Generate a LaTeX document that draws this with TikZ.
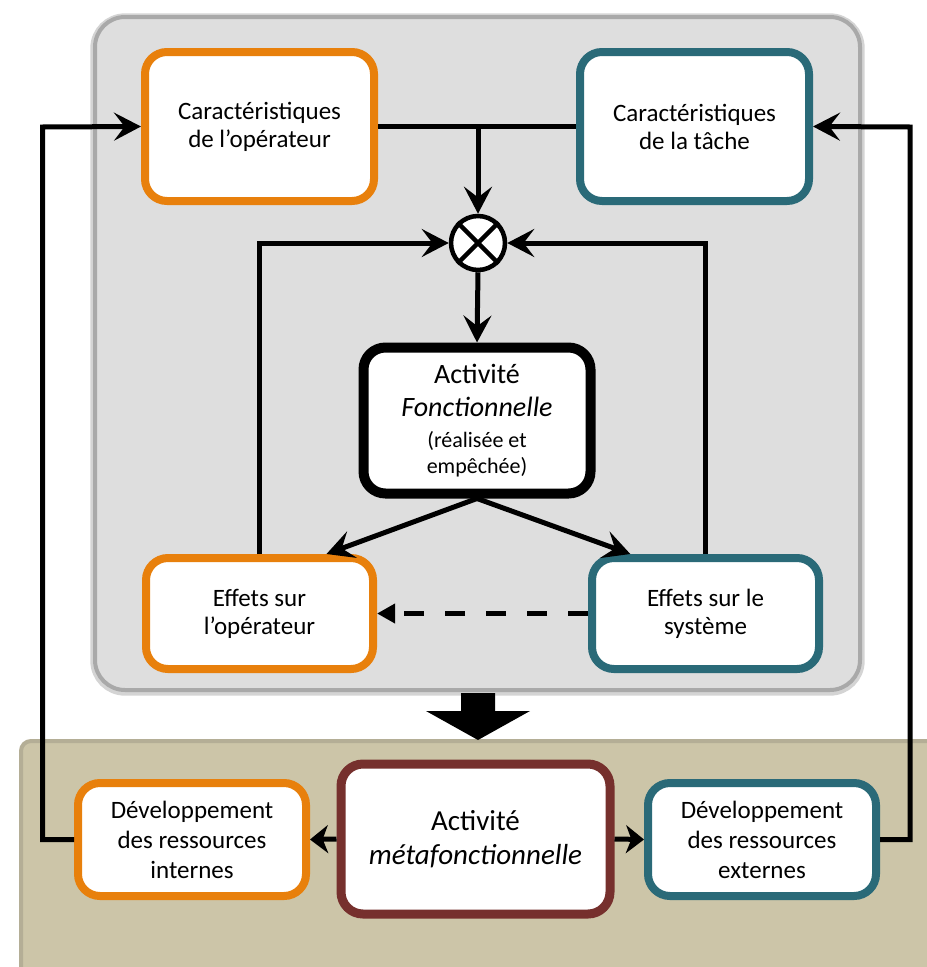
\documentclass[tikz,border=0pt]{standalone}
\usepackage{fontspec}
\setmainfont{Carlito}
\usetikzlibrary{arrows.meta,calc}
\definecolor{orangeb}{HTML}{E8800C}
\definecolor{tealb}{HTML}{2A6A78}
\definecolor{brownb}{HTML}{76302D}
\definecolor{panelgray}{HTML}{DEDEDE}
\definecolor{panelborder}{HTML}{A9A9A9}
\definecolor{beigep}{HTML}{CCC5A8}
\definecolor{beigeborder}{HTML}{B4AE96}
\begin{document}
\begin{tikzpicture}[x=0.75pt,y=-0.75pt,
  box/.style={draw, fill=white, rounded corners=16.5pt, line width=6pt, align=center, inner sep=0pt,
    font=\fontsize{18.75}{21}\selectfont},
  obox/.style={box, draw=orangeb},
  tbox/.style={box, draw=tealb},
  conn/.style={line width=3.75pt, draw=black},
  arr/.style={conn, -{Stealth[length=20.25pt, width=21pt, inset=8pt]}},
  arrs/.style={conn, -{Stealth[length=13.5pt, width=21pt, inset=4pt]}},
  dasharr/.style={conn, dash pattern=on 15pt off 15.75pt, -{Triangle[length=13.5pt, width=14pt]}},
]
\useasboundingbox (0,0) rectangle (926,967);
% panels
\node (grayp) [draw=panelborder!50, line width=7pt, rounded corners=22.5pt, minimum width=573.75pt, minimum height=504.75pt] at (477.5,354.5) {};
\node (graypanel) [draw=panelborder, fill=panelgray, line width=3pt, rounded corners=22.5pt, minimum width=573.75pt, minimum height=504.75pt] at (477.5,353.5) {};
\node (beigepanel) [draw=beigeborder, fill=beigep, line width=3pt, rounded corners=7.5pt, minimum width=705pt, minimum height=195pt, anchor=north west] at (19,739) {};
% big arrow
\fill (461,693) -- (495,693) -- (495,711) -- (530,711) -- (478,740) -- (426,711) -- (461,711) -- cycle;
% boxes
\node (carop) [obox, minimum width=171.75pt, minimum height=111.75pt] at (259.5,126.5) {Caractéristiques\\de l’opérateur};
\node (tache) [tbox, minimum width=171.75pt, minimum height=111.75pt] at (694.5,126.5) {Caractéristiques\\de la tâche};
\node (circ) [circle, draw, fill=white, line width=3.4pt, minimum size=40.5pt, inner sep=0pt] at (478,243) {};
\draw[line width=3.4pt] (circ.north east) -- (circ.south west) (circ.north west) -- (circ.south east);
\node (actf) [box, draw=black, line width=7.5pt, minimum width=170.25pt, minimum height=109.5pt, font=\fontsize{21}{25}\selectfont] at (477,420.5)
  {Activité\\\textit{Fonctionnelle}\\[-2pt]{\fontsize{16.5}{19}\selectfont (réalisée et}\\[-5pt]{\fontsize{16.5}{19}\selectfont empêchée)}};
\node (effop) [obox, minimum width=170.25pt, minimum height=83.25pt] at (259.5,613.5) {Effets sur\\l’opérateur};
\node (effsys) [tbox, minimum width=170.25pt, minimum height=83.25pt] at (705.5,613.5) {Effets sur le\\système};
\node (devint) [obox, minimum width=171pt, minimum height=84.75pt, font=\fontsize{18.75}{22.5}\selectfont] at (192,839.5) {Développement\\des ressources\\internes};
\node (meta) [box, draw=brownb, line width=6.75pt, minimum width=201.75pt, minimum height=112.5pt, font=\fontsize{21.75}{26}\selectfont] at (475.5,839) {Activité\\\textit{métafonctionnelle}};
\node (devext) [tbox, minimum width=171pt, minimum height=84.75pt, font=\fontsize{18.75}{22.5}\selectfont] at (762,839.5) {Développement\\des ressources\\externes};
% connectors
\draw[conn] (carop.east) -- (tache.west);
\draw[arr] (circ.north |- carop.east) -- (circ.north);
\draw[arr] (circ.south) -- (actf.north);
\draw[arr] (effop.north) |- (circ.west);
\draw[arr] (effsys.north) |- (circ.east);
\draw[arr] (actf.south) -- ($(effop.north)!0.57!(effop.north east)$);
\draw[arr] (actf.south) -- ($(effsys.north)!0.64!(effsys.north west)$);
\draw[dasharr] (effsys.west) -- (effop.east);
\coordinate (lc) at (42.5,127);
\coordinate (rc) at (910,127);
\draw[arr] (devint.west) -| (lc) -- (carop.west);
\draw[arr] (devext.east) -| (rc) -- (tache.east);
\draw[arrs] (meta.west) -- (devint.east);
\draw[arrs] (meta.east) -- (devext.west);
\end{tikzpicture}
\end{document}
